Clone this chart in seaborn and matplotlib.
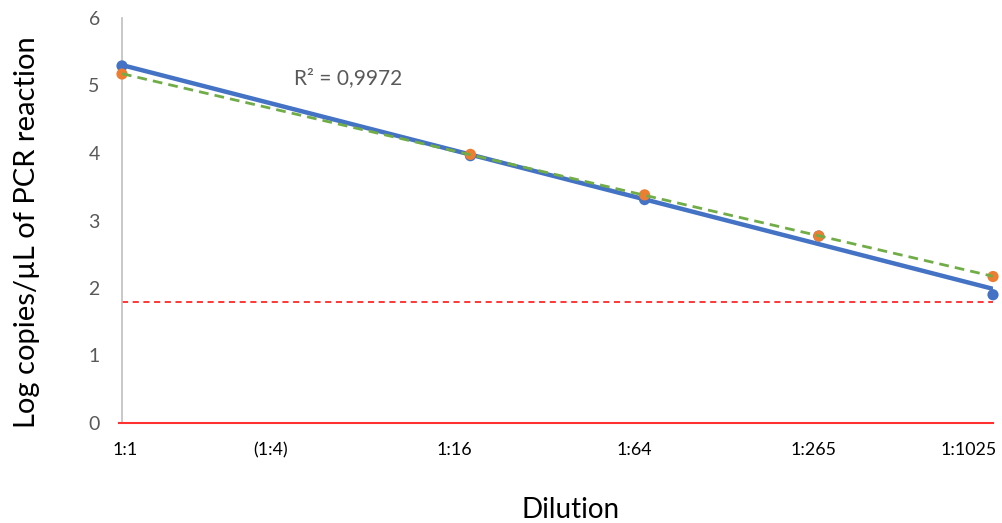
import matplotlib
matplotlib.use("Agg")
import matplotlib.pyplot as plt
import seaborn as sns
import numpy as np
import pandas as pd

# ---- data ----
dilution_step = [0, 2, 3, 4, 5]          # log4 steps: 1:1, 1:16, 1:64, 1:256, 1:1024
series_a = [5.29, 3.96, 3.31, 2.77, 1.90]  # blue
series_b = [5.17, 3.98, 3.38, 2.77, 2.17]  # orange
limit_value = 1.79
tick_labels = ["1:1", "(1:4)", "1:16", "1:64", "1:265", "1:1025"]
tick_positions = [0.02, 0.85, 1.91, 2.94, 3.97, 4.86]
r2_text = "R² = 0,9972"

df = pd.DataFrame({"x": dilution_step, "a": series_a, "b": series_b})

sns.set_theme(style="white")
plt.rcParams["font.family"] = ["Lato", "DejaVu Sans"]

BLUE = "#4472C4"
ORANGE = "#ED7D31"
GREEN = "#70AD47"
GRAY = "#595959"

fig = plt.figure(figsize=(10.03, 5.23), dpi=100)
ax = fig.add_axes([122/1003, 1-423/523, (993-122)/1003, (423-18)/523])

# limit line
ax.axhline(limit_value, color="#FF0000", lw=1.1, ls=(0, (4, 3)), zorder=2)

# trend lines
sns.regplot(data=df, x="x", y="a", ci=None, scatter=False, ax=ax,
            line_kws=dict(color=BLUE, lw=3.2, zorder=3, solid_capstyle="butt"))
sns.scatterplot(data=df, x="x", y="a", ax=ax, color=BLUE, s=65,
                edgecolor="none", zorder=4, clip_on=False)
sns.scatterplot(data=df, x="x", y="b", ax=ax, color=ORANGE, s=65,
                edgecolor="none", zorder=5, clip_on=False)
sns.regplot(data=df, x="x", y="b", ci=None, scatter=False, ax=ax,
            line_kws=dict(color=GREEN, lw=2.0, ls=(0, (3.5, 2.2)), zorder=6))

ax.set_xlim(0, 5)
ax.set_ylim(0, 6)
ax.set_yticks(range(0, 7))
ax.set_xticks(tick_positions)
ax.set_xticklabels(tick_labels)
ax.tick_params(axis="x", length=0, pad=14, labelsize=12.8, labelcolor="black")
ax.tick_params(axis="y", length=0, pad=16, labelsize=14, labelcolor=GRAY)

for s in ["top", "right"]:
    ax.spines[s].set_visible(False)
ax.spines["left"].set_color("#BFBFBF")
ax.spines["left"].set_linewidth(1.2)
ax.spines["bottom"].set_color("#FF3030")
ax.spines["bottom"].set_linewidth(1.5)
ax.spines["bottom"].set_bounds(-0.02, 5)

ax.text(1.30, 5.11, r2_text, fontsize=15, color=GRAY, ha="center", va="center")

ax.set_xlabel("Dilution", fontsize=20, color="black")
ax.xaxis.set_label_coords((571-122)/871, (423-518)/405)
ax.xaxis.label.set_va("baseline")
ax.set_ylabel("Log copies/µL of PCR reaction", fontsize=21, color="black")
ax.yaxis.set_label_coords((27-122)/871, (423-232)/405)
ax.yaxis.label.set_va("center")

fig.savefig("out.png", dpi=100)
